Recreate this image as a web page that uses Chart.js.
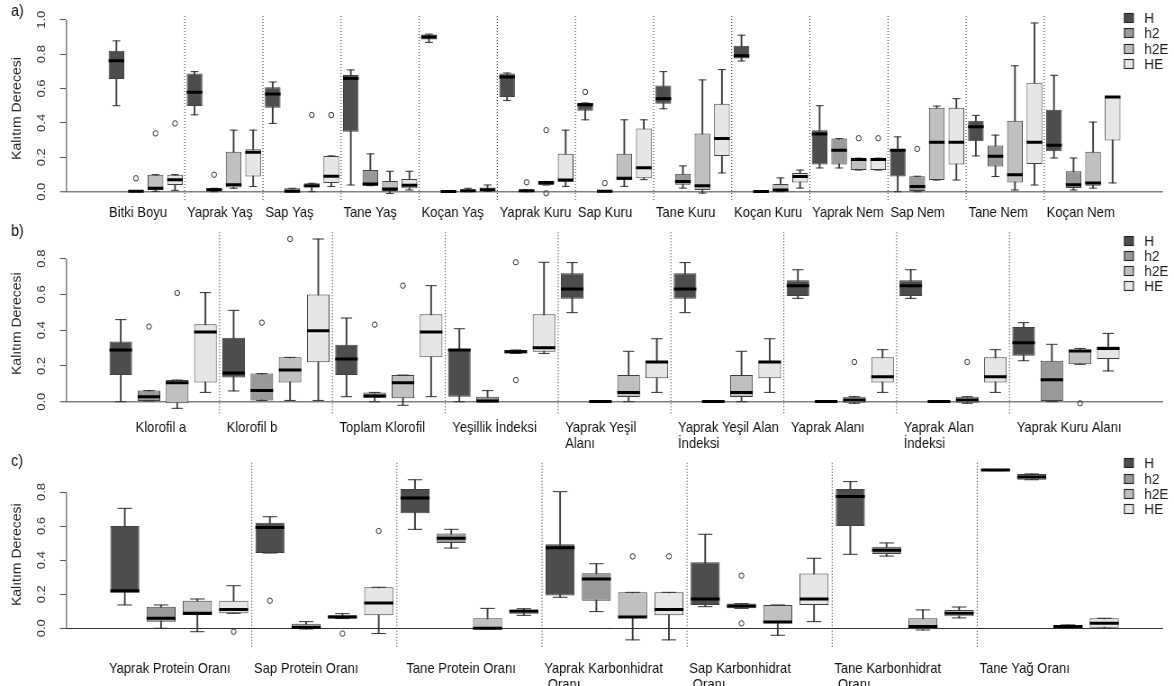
<!DOCTYPE html>
<html>
<head>
<meta charset="utf-8">
<script src="https://cdn.jsdelivr.net/npm/chart.js@4.4.0/dist/chart.umd.min.js"></script>
<style>
html, body { margin: 0; padding: 0; background: #fff; }
#wrap { position: relative; width: 1174px; height: 686px; overflow: hidden; }
#wrap canvas { position: absolute; left: 0; }
</style>
</head>
<body>
<div id="wrap">
  <canvas id="pa"></canvas>
  <canvas id="pb"></canvas>
  <canvas id="pc"></canvas>
</div>
<script>
const seriesNames = ['H', 'h2', 'h2E', 'HE']
const seriesFill = ['#4d4d4d', '#999999', '#c0c0c0', '#e6e6e6']

// every box is [lower whisker, Q1, median, Q3, upper whisker]
// outliers are [group, series, value]

// a)
const aCategories = ['Bitki Boyu', 'Yaprak Yaş', 'Sap Yaş', 'Tane Yaş', 'Koçan Yaş', 'Yaprak Kuru', 'Sap Kuru',
    'Tane Kuru', 'Koçan Kuru', 'Yaprak Nem', 'Sap Nem', 'Tane Nem', 'Koçan Nem']
const aH = [
    [0.500, 0.656, 0.761, 0.819, 0.877], [0.447, 0.498, 0.578, 0.687, 0.698], [0.397, 0.488, 0.568, 0.607, 0.638],
    [0.039, 0.348, 0.658, 0.679, 0.708], [0.868, 0.885, 0.900, 0.914, 0.916], [0.531, 0.551, 0.667, 0.687, 0.690],
    [0.418, 0.471, 0.506, 0.516, 0.516], [0.482, 0.512, 0.541, 0.617, 0.698], [0.760, 0.774, 0.790, 0.848, 0.910],
    [0.138, 0.158, 0.335, 0.358, 0.500], [0.000, 0.088, 0.241, 0.249, 0.319], [0.208, 0.294, 0.377, 0.412, 0.444],
    [0.196, 0.235, 0.270, 0.477, 0.677]
]
const aH2 = [
    [0.000, 0.000, 0.002, 0.005, 0.005], [0.000, 0.000, 0.012, 0.020, 0.020], [0.000, 0.000, 0.003, 0.020, 0.020],
    [0.035, 0.035, 0.045, 0.126, 0.220], [0.000, 0.000, 0.001, 0.002, 0.002], [0.000, 0.000, 0.005, 0.010, 0.010],
    [0.000, 0.000, 0.002, 0.003, 0.003], [0.021, 0.041, 0.060, 0.105, 0.150], [0.000, 0.000, 0.001, 0.003, 0.003],
    [0.138, 0.158, 0.241, 0.309, 0.309], [0.000, 0.000, 0.031, 0.090, 0.090], [0.088, 0.146, 0.206, 0.268, 0.329],
    [0.010, 0.021, 0.041, 0.119, 0.196]
]
const aH2E = [
    [0.002, 0.008, 0.020, 0.099, 0.099], [0.020, 0.025, 0.041, 0.232, 0.358], [0.000, 0.025, 0.035, 0.049, 0.049],
    [-0.010, 0.000, 0.016, 0.062, 0.119], [0.000, 0.000, 0.005, 0.010, 0.020], [0.039, 0.039, 0.054, 0.060, 0.060],
    [0.031, 0.068, 0.078, 0.220, 0.418], [-0.008, 0.010, 0.035, 0.339, 0.650], [0.000, 0.000, 0.010, 0.045, 0.080],
    [0.126, 0.126, 0.187, 0.195, 0.195], [0.068, 0.068, 0.288, 0.488, 0.498], [0.010, 0.054, 0.099, 0.412, 0.732],
    [0.021, 0.035, 0.051, 0.232, 0.405]
]
const aHE = [
    [0.008, 0.039, 0.070, 0.099, 0.099], [0.030, 0.088, 0.230, 0.247, 0.358], [0.030, 0.050, 0.090, 0.208, 0.208],
    [0.010, 0.020, 0.037, 0.074, 0.119], [0.002, 0.002, 0.012, 0.025, 0.039], [0.031, 0.058, 0.068, 0.220, 0.358],
    [0.070, 0.078, 0.140, 0.368, 0.418], [0.109, 0.208, 0.309, 0.512, 0.710], [0.021, 0.054, 0.088, 0.109, 0.126],
    [0.126, 0.126, 0.187, 0.195, 0.195], [0.068, 0.158, 0.288, 0.488, 0.541], [0.039, 0.161, 0.288, 0.634, 0.981],
    [0.051, 0.298, 0.551, 0.551, 0.551]
]
const aOutliers = [
    [0, 1, 0.078], [0, 2, 0.339], [0, 3, 0.397], [1, 1, 0.099], [2, 2, 0.446], [2, 3, 0.446], [5, 1, 0.055],
    [5, 2, 0.358], [5, 2, -0.009], [6, 0, 0.580], [6, 1, 0.050], [9, 2, 0.311], [9, 3, 0.311], [10, 1, 0.249]
]
const aTicks = [0, 0.2, 0.4, 0.6, 0.8, 1.0]

// b)
const bCategories = ['      Klorofil a', 'Klorofil b', 'Toplam Klorofil', 'Yeşillik İndeksi', ['Yaprak Yeşil', 'Alanı'],
    ['Yaprak Yeşil Alan', 'İndeksi'], 'Yaprak Alanı', ['Yaprak Alan', 'İndeksi'], 'Yaprak Kuru Alanı']
const bH = [
    [0.000, 0.149, 0.289, 0.336, 0.459], [0.060, 0.136, 0.160, 0.358, 0.511], [0.028, 0.149, 0.239, 0.319, 0.468],
    [0.000, 0.028, 0.289, 0.295, 0.408], [0.498, 0.576, 0.630, 0.718, 0.778], [0.498, 0.576, 0.630, 0.718, 0.778],
    [0.578, 0.591, 0.649, 0.679, 0.738], [0.578, 0.591, 0.649, 0.679, 0.738], [0.229, 0.257, 0.330, 0.418, 0.442]
]
const bH2 = [
    [0.004, 0.004, 0.028, 0.062, 0.062], [0.007, 0.007, 0.062, 0.157, 0.157], [0.000, 0.022, 0.032, 0.052, 0.052],
    [0.000, 0.000, 0.004, 0.028, 0.062], [0.000, 0.000, 0.001, 0.003, 0.003], [0.000, 0.000, 0.001, 0.003, 0.003],
    [0.000, 0.000, 0.001, 0.003, 0.003], [0.000, 0.000, 0.001, 0.003, 0.003], [0.000, 0.000, 0.123, 0.229, 0.321]
]
const bH2E = [
    [-0.037, -0.009, 0.106, 0.121, 0.121], [0.007, 0.108, 0.177, 0.248, 0.248], [-0.020, 0.019, 0.106, 0.149, 0.149],
    [0.270, 0.270, 0.280, 0.289, 0.289], [0.000, 0.026, 0.052, 0.149, 0.282], [0.000, 0.026, 0.052, 0.149, 0.282],
    [-0.009, -0.006, 0.009, 0.028, 0.028], [-0.009, -0.006, 0.009, 0.028, 0.028], [0.209, 0.209, 0.283, 0.291, 0.298]
]
const bHE = [
    [0.052, 0.108, 0.390, 0.433, 0.610], [0.007, 0.220, 0.397, 0.599, 0.910], [0.028, 0.248, 0.390, 0.489, 0.649],
    [0.270, 0.280, 0.302, 0.489, 0.780], [0.052, 0.131, 0.222, 0.228, 0.352], [0.052, 0.131, 0.222, 0.228, 0.352],
    [0.052, 0.108, 0.140, 0.248, 0.291], [0.052, 0.108, 0.140, 0.248, 0.291], [0.172, 0.239, 0.298, 0.308, 0.382]
]
const bOutliers = [
    [0, 1, 0.420], [0, 2, 0.608], [1, 1, 0.442], [1, 2, 0.910], [2, 1, 0.431], [2, 2, 0.649], [3, 2, 0.780],
    [3, 2, 0.121], [6, 2, 0.222], [7, 2, 0.222], [8, 2, -0.009]
]
const bTicks = [0, 0.2, 0.4, 0.6, 0.8]

// c)
const cCategories = ['Yaprak Protein Oranı', 'Sap Protein Oranı', '  Tane Protein Oranı', ['Yaprak Karbonhidrat', ' Oranı'],
    ['Sap Karbonhidrat', ' Oranı'], ['Tane Karbonhidrat', ' Oranı'], 'Tane Yağ Oranı']
const cH = [
    [0.137, 0.209, 0.221, 0.600, 0.704], [0.442, 0.442, 0.591, 0.620, 0.655], [0.581, 0.675, 0.765, 0.818, 0.872],
    [0.182, 0.192, 0.473, 0.493, 0.802], [0.127, 0.137, 0.172, 0.387, 0.552], [0.434, 0.600, 0.773, 0.818, 0.861],
    [0.925, 0.925, 0.929, 0.932, 0.932]
]
const cH2 = [
    [0.000, 0.039, 0.059, 0.127, 0.137], [-0.004, -0.004, 0.004, 0.027, 0.039], [0.471, 0.501, 0.528, 0.557, 0.581],
    [0.098, 0.162, 0.289, 0.323, 0.379], [0.117, 0.117, 0.131, 0.145, 0.145], [0.424, 0.436, 0.458, 0.479, 0.501],
    [0.872, 0.872, 0.888, 0.906, 0.906]
]
const cH2E = [
    [-0.020, 0.078, 0.088, 0.162, 0.172], [0.057, 0.057, 0.067, 0.076, 0.086], [-0.004, -0.004, 0.000, 0.059, 0.117],
    [-0.068, 0.063, 0.067, 0.211, 0.211], [-0.041, 0.029, 0.037, 0.137, 0.137], [-0.010, 0.000, 0.010, 0.059, 0.108],
    [0.000, 0.000, 0.010, 0.020, 0.020]
]
const cHE = [
    [0.088, 0.088, 0.110, 0.162, 0.250], [-0.031, 0.076, 0.149, 0.241, 0.241], [0.076, 0.086, 0.100, 0.110, 0.115],
    [-0.068, 0.076, 0.110, 0.211, 0.211], [0.039, 0.137, 0.172, 0.321, 0.411], [0.061, 0.070, 0.088, 0.108, 0.125],
    [0.000, 0.000, 0.029, 0.059, 0.059]
]
const cOutliers = [
    [0, 3, -0.020], [1, 0, 0.162], [1, 2, -0.031], [1, 3, 0.571], [3, 2, 0.422], [3, 3, 0.422], [4, 1, 0.309], [4, 1, 0.029]
]
const cTicks = [0, 0.2, 0.4, 0.6, 0.8]

const FONT = '"Liberation Sans", Arial, sans-serif'
Chart.defaults.font.family = FONT

// the reference picture is squeezed sideways, so draw wider and squeeze with css
const SX = 0.9
const CW = Math.round(1174 / SX)
const px = v => v / SX   // screen x -> canvas x

// dotted group separators, R-style y axis line, panel letter, legend
const decor = {
    id: 'decor',
    beforeDatasetsDraw(chart, args, o) {
        const { ctx, chartArea: a, scales: { x } } = chart
        ctx.save()
        ctx.strokeStyle = '#444'
        ctx.lineWidth = 1.1
        ctx.setLineDash([1, 2])
        for (let g = 1; g < o.groups; g++) {
            const xp = x.getPixelForValue(4 * g + 0.5)
            ctx.beginPath()
            ctx.moveTo(xp, a.top)
            ctx.lineTo(xp, a.bottom)
            ctx.stroke()
        }
        ctx.restore()
    },
    afterDraw(chart, args, o) {
        const { ctx, chartArea: a, scales: { y } } = chart
        ctx.save()
        ctx.strokeStyle = '#555'
        ctx.lineWidth = 1.1
        ctx.beginPath()
        ctx.moveTo(a.left + 0.5, y.getPixelForValue(o.ticks[0]))
        ctx.lineTo(a.left + 0.5, y.getPixelForValue(o.ticks[o.ticks.length - 1]))
        ctx.stroke()

        ctx.fillStyle = '#111'
        ctx.textBaseline = 'middle'
        ctx.font = '16px ' + FONT
        ctx.fillText(o.letter, px(11), o.letterY)

        ctx.font = '15px ' + FONT
        seriesNames.forEach((n, i) => {
            const cy = Math.round(o.legendY + i * 15.3)
            ctx.fillStyle = seriesFill[i]
            ctx.fillRect(px(1124), cy - 4.5, px(9), 9)
            ctx.strokeStyle = '#222'
            ctx.lineWidth = 1.1
            ctx.strokeRect(px(1124), cy - 4.5, px(9), 9)
            ctx.fillStyle = '#222'
            ctx.fillText(n, px(1144), cy + 1)
        })
        ctx.restore()
    }
}

function boxPanel(id, letter, cats, series, outliers, yTicks, lay) {
    const n = cats.length * 4
    const ext = 0.04 * n
    const pos = (g, s) => 4 * g + s + 1
    const unitPx = (chart, u) => {
        const x = chart.scales.x
        return Math.abs(x.getPixelForValue(u) - x.getPixelForValue(0))
    }
    const datasets = []
    series.forEach((arr, s) => {
        datasets.push({
            type: 'bar', order: 4, grouped: false, barThickness: 1.2, backgroundColor: '#3a3a3a',
            data: arr.map((b, g) => ({ x: pos(g, s), y: [b[0], b[4]] }))
        })
        datasets.push({
            type: 'bar', order: 3, grouped: false, barPercentage: 0.8, categoryPercentage: 1,
            backgroundColor: seriesFill[s], borderColor: '#404040', borderWidth: 1, borderSkipped: false,
            data: arr.map((b, g) => ({ x: pos(g, s), y: [b[1], b[3]] }))
        })
        datasets.push({
            type: 'scatter', order: 2, pointStyle: 'line', pointBorderColor: '#333', pointBorderWidth: 1,
            pointRadius: c => unitPx(c.chart, 0.2),
            data: arr.flatMap((b, g) => [{ x: pos(g, s), y: b[0] }, { x: pos(g, s), y: b[4] }])
        })
        datasets.push({
            type: 'scatter', order: 1, pointStyle: 'line', pointBorderColor: '#000', pointBorderWidth: 3,
            pointRadius: c => unitPx(c.chart, 0.4),
            data: arr.map((b, g) => ({ x: pos(g, s), y: b[2] }))
        })
    })
    datasets.push({
        type: 'scatter', order: 0, pointStyle: 'circle', pointRadius: 2.7, pointBackgroundColor: 'rgba(0,0,0,0)',
        pointBorderColor: '#333', pointBorderWidth: 1,
        data: outliers.map(o => ({ x: pos(o[0], o[1]), y: o[2] }))
    })

    const canvas = document.getElementById(id)
    canvas.width = CW
    canvas.height = lay.h
    canvas.style.width = '1174px'
    canvas.style.height = lay.h + 'px'
    canvas.style.top = lay.at + 'px'
    return new Chart(canvas, {
        type: 'bar',
        data: { datasets },
        plugins: [decor],
        options: {
            responsive: false,
            devicePixelRatio: 1,
            animation: false,
            layout: { padding: { top: lay.top, right: px(11), bottom: 0, left: 0 } },
            plugins: {
                legend: { display: false },
                tooltip: { enabled: false },
                decor: { groups: cats.length, ticks: yTicks, letter, letterY: lay.letterY, legendY: lay.legendY }
            },
            scales: {
                x: {
                    type: 'linear', min: 0.5 - ext, max: n + 0.5 + ext, offset: false,
                    afterBuildTicks: s => { s.ticks = cats.map((c, g) => ({ value: 4 * g + 0.5 + lay.labelPad })) },
                    afterFit: s => { s.height = lay.h - lay.bottom; s.paddingLeft = 0; s.paddingRight = 0 },
                    border: { display: false },
                    grid: { display: false, drawTicks: false, offset: false },
                    ticks: {
                        autoSkip: false, minRotation: 0, maxRotation: 0, align: 'start', padding: lay.labelGap,
                        color: '#111', font: { size: 14.5, lineHeight: 1.1 }, callback: (v, i) => cats[i]
                    }
                },
                y: {
                    type: 'linear', min: lay.yMin, max: lay.yMax,
                    afterBuildTicks: s => { s.ticks = yTicks.map(v => ({ value: v })) },
                    afterFit: s => { s.width = px(66); s.paddingTop = 0; s.paddingBottom = 0 },
                    border: { display: false },
                    grid: {
                        drawOnChartArea: true, drawTicks: true, tickLength: px(6), tickColor: '#555', tickWidth: 1.1,
                        color: c => (c.tick && c.tick.value === 0) ? lay.zeroColor : 'rgba(0,0,0,0)',
                        lineWidth: c => (c.tick && c.tick.value === 0) ? lay.zeroWidth : 1
                    },
                    ticks: {
                        minRotation: 90, maxRotation: 90, crossAlign: 'center', padding: 10.9,
                        color: '#333', font: { size: 13 }, callback: v => v.toFixed(1)
                    },
                    title: {
                        display: true, text: 'Kalıtım Derecesi', color: '#222', font: { size: 14 },
                        padding: { top: 10.5, bottom: 0 }
                    }
                }
            }
        }
    })
}

// at: canvas top on the page; top/bottom: plot region inside the canvas
boxPanel('pa', 'a)', aCategories, [aH, aH2, aH2E, aHE], aOutliers, aTicks, {
    at: 0, h: 236, top: 16.1, bottom: 201, yMin: -0.054, yMax: 1.021, labelPad: 0.12, labelGap: 4,
    letterY: 12, legendY: 18, zeroColor: '#808080', zeroWidth: 1.5
})
boxPanel('pb', 'b)', bCategories, [bH, bH2, bH2E, bHE], bOutliers, bTicks, {
    at: 216, h: 240, top: 16.2, bottom: 199.1, yMin: -0.075, yMax: 0.948, labelPad: 0.25, labelGap: 5.2,
    letterY: 15.7, legendY: 24.5, zeroColor: '#808080', zeroWidth: 1.5
})
boxPanel('pc', 'c)', cCategories, [cH, cH2, cH2E, cHE], cOutliers, cTicks, {
    at: 446, h: 240, top: 16.7, bottom: 200.7, yMin: -0.108, yMax: 0.972, labelPad: 0.06, labelGap: 14.3,
    letterY: 16, legendY: 17.3, zeroColor: '#333', zeroWidth: 1
})
</script>
</body>
</html>
